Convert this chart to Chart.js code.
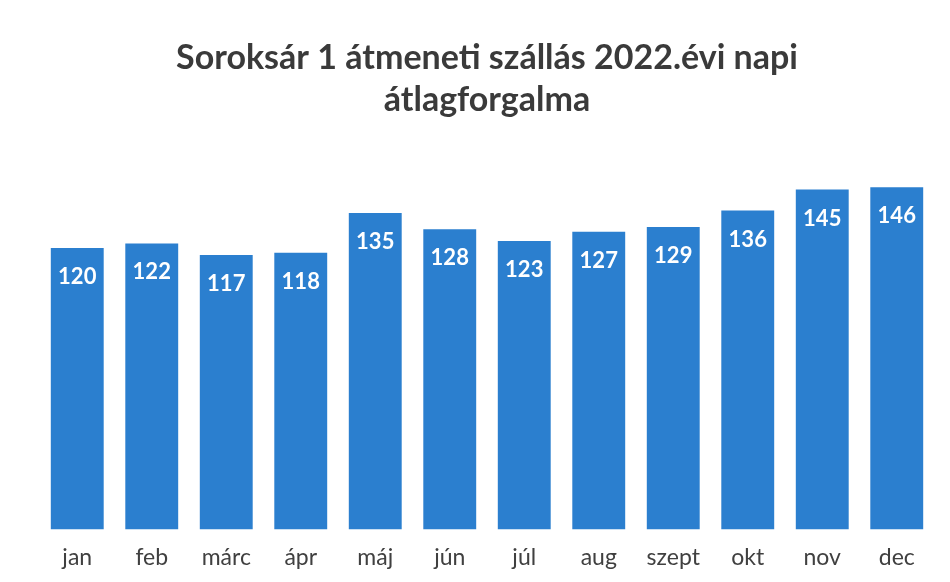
<!DOCTYPE html>
<html>
<head>
<meta charset="utf-8">
<script src="https://cdn.jsdelivr.net/npm/chart.js@4"></script>
<style>
    html, body { margin: 0; padding: 0; background: #ffffff; }
    #wrap { width: 950px; height: 582px; }
</style>
</head>
<body>
<div id="wrap"><canvas id="monthlyChart" width="950" height="582"></canvas></div>
<script>
const months = ['jan', 'feb', 'márc', 'ápr', 'máj', 'jún', 'júl', 'aug', 'szept', 'okt', 'nov', 'dec'];
const dailyAverage = [120, 122, 117, 118, 135, 128, 123, 127, 129, 136, 145, 146];
const titleLines = ['Soroksár 1 átmeneti szállás 2022.évi napi', 'átlagforgalma'];

// writes the value inside the top of each bar
const valueLabels = {
    id: 'valueLabels',
    afterDatasetsDraw(chart) {
        const ctx = chart.ctx;
        const meta = chart.getDatasetMeta(0);
        ctx.save();
        ctx.font = 'bold 22px Lato, "Open Sans", sans-serif';
        ctx.fillStyle = '#ffffff';
        ctx.textAlign = 'center';
        ctx.textBaseline = 'middle';
        meta.data.forEach((bar, i) => {
            ctx.fillText(dailyAverage[i], bar.x, bar.y + 29);
        });
        ctx.restore();
    }
};

document.addEventListener('DOMContentLoaded', function() {
    const ctx = document.getElementById('monthlyChart').getContext('2d');
    new Chart(ctx, {
        type: 'bar',
        data: {
            labels: months,
            datasets: [{
                data: dailyAverage,
                backgroundColor: '#2b7fcf',
                borderWidth: 0,
                categoryPercentage: 0.71,
                barPercentage: 1.0
            }]
        },
        options: {
            responsive: false,
            animation: false,
            layout: {
                padding: { left: 40, right: 16, top: 0, bottom: 5 }
            },
            scales: {
                x: {
                    grid: { display: false },
                    border: { display: false },
                    ticks: {
                        color: '#404040',
                        padding: 6,
                        font: { family: 'Lato, "Open Sans", sans-serif', size: 23 }
                    }
                },
                y: {
                    display: false,
                    min: 0,
                    max: 160
                }
            },
            plugins: {
                legend: { display: false },
                tooltip: { enabled: false },
                title: {
                    display: true,
                    text: titleLines,
                    color: '#3a3a3a',
                    font: { family: 'Lato, "Open Sans", sans-serif', size: 34, weight: 'bold', lineHeight: 1.24 },
                    padding: { top: 37, bottom: 33 }
                }
            }
        },
        plugins: [valueLabels]
    });
});
</script>
</body>
</html>
